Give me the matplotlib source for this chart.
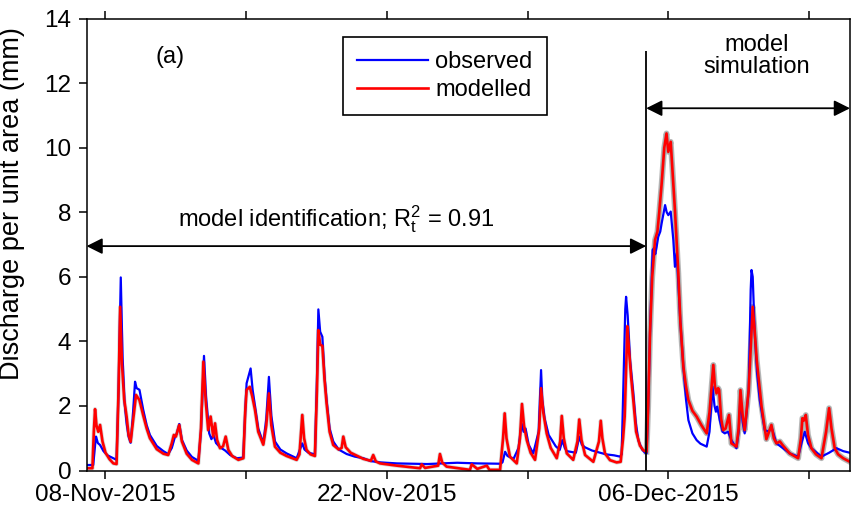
import numpy as np
import pandas as pd
import matplotlib
matplotlib.use("Agg")
import matplotlib.pyplot as plt

plt.rcParams['font.family'] = ['Liberation Sans', 'DejaVu Sans']
plt.rcParams['mathtext.fontset'] = 'custom'
plt.rcParams['mathtext.rm'] = 'Liberation Sans'
plt.rcParams['mathtext.it'] = 'Liberation Sans:italic'

# time in days since 07-Nov-2015 00:00
start = pd.Timestamp('2015-11-07')

obs_day = [0.06, 0.39, 0.50, 0.53, 0.62, 0.73, 0.90, 1.10, 1.39, 1.55, 1.65, 1.76, 1.85,
           1.95, 2.05, 2.15, 2.25, 2.35, 2.47, 2.55, 2.69, 2.88, 3.05, 3.21, 3.55, 3.88,
           4.12, 4.30, 4.46, 4.55, 4.67, 4.80, 5.04, 5.30, 5.62, 5.75, 5.90, 6.00, 6.16,
           6.27, 6.37, 6.50, 6.70, 6.95, 7.20, 7.53, 7.85, 7.95, 8.02, 8.22, 8.32, 8.44,
           8.60, 8.85, 9.00, 9.13, 9.25, 9.43, 9.70, 10.01, 10.51, 10.79, 10.90, 11.10,
           11.42, 11.52, 11.59, 11.68, 11.79, 11.90, 12.00, 12.15, 12.33, 12.60, 13.00,
           13.40, 13.83, 14.20, 14.70, 15.50, 17.00, 18.50, 19.50, 20.63, 20.75, 20.88,
           21.00, 21.30, 21.55, 21.70, 21.80, 21.90, 22.05, 22.28, 22.55, 22.67, 22.73,
           22.85, 23.05, 23.40, 23.60, 23.73, 23.85, 23.95, 24.40, 24.57, 24.70, 24.85,
           25.20, 25.50, 25.90, 26.30, 26.60, 26.68, 26.78, 26.86, 26.90, 26.98, 27.10,
           27.26, 27.38, 27.51, 27.70, 27.84, 27.92, 28.00, 28.09, 28.22, 28.30, 28.35,
           28.42, 28.50, 28.60, 28.67, 28.84, 28.92, 29.00, 29.12, 29.25, 29.33, 29.42,
           29.50, 29.60, 29.75, 29.88, 30.00, 30.20, 30.41, 30.60, 30.91, 31.05, 31.20,
           31.30, 31.37, 31.43, 31.56, 31.70, 31.81, 31.97, 32.14, 32.39, 32.50, 32.59,
           32.70, 32.80, 33.00, 33.10, 33.14, 33.20, 33.30, 33.42, 33.55, 33.80, 34.00,
           34.13, 34.38, 34.71, 35.04, 35.46, 35.65, 35.79, 35.95, 36.12, 36.62, 37.00,
           37.37, 37.70, 38.03]
obs_val = [0.17, 0.17, 0.90, 1.05, 0.85, 0.79, 0.60, 0.47, 0.38, 0.33, 2.50, 5.98, 3.50,
           2.10, 1.46, 1.05, 0.86, 1.60, 2.75, 2.55, 2.50, 1.87, 1.40, 1.10, 0.76, 0.60,
           0.51, 0.70, 1.05, 1.15, 1.44, 0.95, 0.62, 0.42, 0.30, 1.20, 3.55, 2.30, 1.15,
           0.97, 1.10, 0.85, 0.72, 0.62, 0.48, 0.38, 0.40, 1.80, 2.70, 3.16, 2.50, 1.98,
           1.30, 0.84, 1.60, 2.90, 1.70, 0.90, 0.65, 0.53, 0.38, 0.84, 0.65, 0.55,
           0.50, 2.80, 4.99, 4.30, 4.14, 2.90, 2.18, 1.30, 0.90, 0.65, 0.51,
           0.43, 0.38, 0.29, 0.25, 0.22, 0.20, 0.24, 0.22, 0.21, 0.25, 0.58,
           0.45, 0.36, 0.70, 1.46, 1.20, 1.30, 0.80, 0.53, 1.20, 3.11, 2.20,
           1.60, 1.10, 0.75, 0.64, 0.94, 0.70, 0.60, 0.55, 1.05, 0.80, 0.72,
           0.62, 0.57, 0.50, 0.47, 0.43, 0.50, 3.00, 5.00, 5.38, 4.80, 3.40,
           2.39, 1.50, 0.93, 0.65, 0.55, 0.53, 2.00, 4.25, 6.83, 6.90, 6.70,
           6.93, 7.24, 7.40, 7.66, 8.22, 8.00, 7.91, 8.02, 7.14, 6.31, 6.73,
           5.80, 4.60, 3.21, 2.20, 1.56, 1.15, 0.94, 0.83, 0.74, 1.20, 2.60,
           2.00, 1.82, 1.98, 1.56, 1.20, 1.15, 1.20, 0.94, 0.69, 1.20, 2.29,
           1.50, 1.15, 2.50, 5.60, 6.21, 6.00, 4.25, 3.00, 2.18, 1.25, 1.20,
           1.36, 0.84, 0.69, 0.53, 0.43, 0.90, 1.20, 0.85, 0.69, 0.43, 0.55,
           0.69, 0.60, 0.55]

mod_day = [0.06, 0.35, 0.42, 0.48, 0.55, 0.64, 0.73, 0.85, 1.00, 1.20, 1.39, 1.55, 1.65,
           1.73, 1.82, 1.93, 2.05, 2.15, 2.25, 2.38, 2.52, 2.69, 2.88, 3.05, 3.21, 3.55,
           3.88, 4.12, 4.30, 4.40, 4.50, 4.67, 4.80, 5.04, 5.30, 5.62, 5.75, 5.87, 5.98,
           6.11, 6.23, 6.36, 6.45, 6.55, 6.70, 6.85, 6.98, 7.11, 7.30, 7.61, 7.86, 7.95,
           8.02, 8.18, 8.30, 8.44, 8.60, 8.85, 9.00, 9.13, 9.25, 9.43, 9.70, 10.01, 10.51,
           10.65, 10.79, 10.88, 11.00, 11.20, 11.42, 11.52, 11.59, 11.68, 11.79, 11.90,
           12.00, 12.15, 12.33, 12.60, 12.75, 12.83, 12.95, 13.20, 13.83, 14.20, 14.32,
           14.45, 14.66, 15.50, 16.65, 16.73, 16.90, 17.55, 17.64, 17.75, 17.97, 19.13,
           19.22, 19.50, 19.97, 20.10, 20.63, 20.78, 20.86, 20.95, 21.12, 21.46, 21.62,
           21.72, 21.82, 21.96, 22.15, 22.37, 22.58, 22.67, 22.78, 22.95, 23.15, 23.45,
           23.62, 23.70, 23.80, 23.95, 24.27, 24.48, 24.57, 24.68, 24.86, 25.27, 25.55,
           25.64, 25.72, 25.85, 26.10, 26.43, 26.63, 26.75, 26.83, 26.93, 26.96, 27.05,
           27.15, 27.26, 27.40, 27.59, 27.75, 27.92, 28.00, 28.09, 28.20, 28.34, 28.46,
           28.55, 28.67, 28.80, 28.91, 29.00, 29.12, 29.22, 29.33, 29.50, 29.60, 29.75,
           29.88, 30.00, 30.20, 30.41, 30.65, 30.91, 31.05, 31.24, 31.32, 31.40, 31.48,
           31.53, 31.63, 31.73, 31.85, 32.02, 32.14, 32.39, 32.50, 32.59, 32.70, 32.80,
           33.00, 33.20, 33.30, 33.40, 33.64, 33.88, 34.13, 34.25, 34.38, 34.55, 34.68,
           35.04, 35.46, 35.60, 35.67, 35.75, 35.84, 35.95, 36.12, 36.35, 36.62, 36.85,
           37.00, 37.12, 37.28, 37.45, 37.70, 38.03]
mod_val = [0.07, 0.07, 1.20, 1.90, 1.40, 1.20, 1.41, 0.90, 0.55, 0.35, 0.22, 0.20, 2.50,
           5.07, 3.30, 2.20, 1.67, 1.10, 0.89, 1.60, 2.34, 2.18, 1.70, 1.30, 1.00, 0.66,
           0.52, 0.48, 0.85, 1.10, 1.05, 1.41, 0.90, 0.52, 0.33, 0.22, 1.30, 3.37, 2.20,
           1.25, 1.67, 1.05, 1.46, 0.95, 0.69, 0.75, 1.05, 0.64, 0.45, 0.33, 0.38, 1.80,
           2.50, 2.59, 2.30, 1.87, 1.20, 0.80, 1.40, 2.39, 1.40, 0.74, 0.55, 0.45, 0.33,
           0.50, 1.72, 1.00, 0.64, 0.50, 0.45, 2.50, 4.35, 3.90, 3.86, 2.80,
           2.08, 1.20, 0.79, 0.65, 0.70, 1.05, 0.72, 0.55, 0.36, 0.30, 0.48,
           0.28, 0.22, 0.15, 0.07, 0.19, 0.08, 0.15, 0.51, 0.25, 0.12, 0.02,
           0.19, 0.05, 0.15, 0.02, 0.02, 1.00, 1.77, 1.00, 0.43, 0.22, 1.00,
           2.06, 1.40, 0.94, 0.55, 0.33, 1.30, 2.55, 1.80, 1.15, 0.70, 0.38,
           0.90, 1.69, 1.00, 0.53, 0.33, 0.90, 1.58, 0.95, 0.48, 0.27, 0.90,
           1.54, 1.00, 0.53, 0.32, 0.25, 0.27, 1.00, 1.67, 3.73, 4.47, 3.70,
           2.90, 2.18, 1.20, 0.77, 0.63, 0.58, 2.00, 4.25, 6.00, 7.14, 7.40,
           8.00, 8.89, 10.00, 10.44, 9.87, 10.18, 9.20, 8.07, 6.10, 4.60, 3.21,
           2.60, 2.18, 1.85, 1.67, 1.40, 1.15, 1.80, 3.27, 2.60, 2.39, 2.55,
           2.49, 1.60, 1.25, 1.30, 1.72, 0.84, 0.74, 1.30, 2.49, 1.70, 1.25,
           2.50, 5.07, 4.30, 3.42, 1.98, 0.97, 1.41, 1.00, 0.84, 0.90, 0.79,
           0.53, 0.38, 1.00, 1.62, 1.55, 1.72, 1.10, 0.69, 0.50, 0.38, 1.20,
           1.93, 1.30, 0.69, 0.50, 0.38, 0.27]

split_day = 27.9          # end of identification period
xlim_days = (0.055, 38.04)
tick_days = [1, 8, 15, 22, 29, 36]
tick_labels = ['08-Nov-2015', '', '22-Nov-2015', '', '06-Dec-2015', '']

to_time = lambda d: start + pd.to_timedelta(np.asarray(d, dtype=float), unit='D')

fig = plt.figure(figsize=(8.52, 5.15), dpi=100)
ax = fig.add_axes([86.5 / 852, 44.5 / 515, 763.5 / 852, 452 / 515])

t_obs = to_time(obs_day)
t_mod = to_time(mod_day)
mod_day_a = np.asarray(mod_day)
sim = mod_day_a >= split_day - 0.05

# uncertainty band drawn as a grey halo around the modelled series
ax.plot(t_mod, mod_val, color='#8c8c8c', lw=3.0, alpha=0.35, solid_joinstyle='round')
ax.plot(t_mod[sim], np.asarray(mod_val)[sim], color='#8c8c8c', lw=4.2, alpha=0.6,
        solid_joinstyle='round')
ax.plot(t_obs, obs_val, color='#0000ff', lw=1.6, label='observed')
ax.plot(t_mod, mod_val, color='#ff0000', lw=1.9, label='modelled')

x0, x1 = to_time(xlim_days)
ts = to_time([split_day])[0]
ax.set_xlim(x0, x1)
ax.set_ylim(0, 14)
ax.set_yticks(range(0, 15, 2))
ax.set_xticks(to_time(tick_days))
ax.set_xticklabels(tick_labels)

ax.vlines(ts, 0, 13.0, color='k', lw=1.3)

arrow = dict(arrowstyle='<|-|>', color='k', lw=1.3, mutation_scale=24, shrinkA=0, shrinkB=0)
ax.annotate('', xy=(x0, 6.95), xytext=(ts, 6.95), arrowprops=arrow)
ax.annotate('', xy=(ts, 11.22), xytext=(x1, 11.22), arrowprops=arrow)

ax.text(to_time([12.49])[0], 7.55, r'model identification; $\mathregular{R_t^2}$ = 0.91',
        ha='center', va='baseline', fontsize=17)
ax.text(to_time([33.41])[0], 12.84, 'model\nsimulation', ha='center', va='center',
        fontsize=17, linespacing=1.05)
ax.text(to_time([4.21])[0], 12.8, '(a)', ha='center', va='center', fontsize=17)

leg = ax.legend(loc='upper left', bbox_to_anchor=(0.336, 0.959), borderaxespad=0,
                fancybox=False, edgecolor='k', fontsize=17, handlelength=3.0,
                handletextpad=0.3, labelspacing=0.25, borderpad=0.6, framealpha=1)
leg.get_frame().set_linewidth(1.2)

ax.set_ylabel('Discharge per unit area (mm)', fontsize=19.5)
ax.yaxis.set_label_coords(-0.0805, 0.59)

ax.tick_params(axis='both', direction='out', length=6, width=1.1, labelsize=17.5)
ax.tick_params(axis='x', top=True, pad=4)
ax.tick_params(axis='y', pad=5)
for s in ax.spines.values():
    s.set_linewidth(1.1)

fig.savefig('out.png', dpi=100)
